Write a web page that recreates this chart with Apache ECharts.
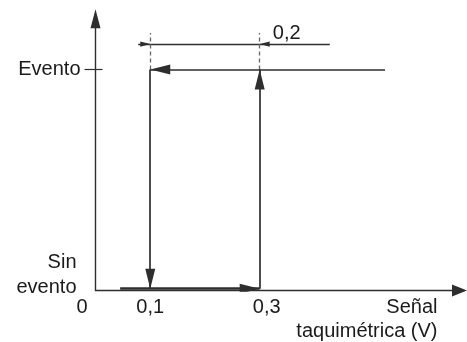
<!DOCTYPE html>
<html>
<head>
<meta charset="utf-8">
<script src="https://cdn.jsdelivr.net/npm/echarts@6/dist/echarts.min.js"></script>
<style>
  html, body { margin: 0; padding: 0; background: #fff; }
  #chart { width: 467px; height: 342px; }
</style>
</head>
<body>
<div id="chart"></div>
<script>
// tick labels
const xTickValues = [0, 0.1, 0.3];
const xTickLabels = ['0', '0,1', '0,3'];
const yTickValues = [0, 1];
const yTickLabels = ['Sin\nevento', 'Evento'];
const xName = 'Señal\ntaquimétrica (V)';

// hysteresis loop (x = signal in V, y = 0 no event / 1 event)
const riseFlat = [[0.045, 0.008], [0.3, 0.008]];
const riseStep = [[0.3, 0.008], [0.3, 1]];
const fallFlat = [[0.529, 1], [0.1, 1]];
const fallStep = [[0.1, 1], [0.1, 0.008]];

// dimension of the hysteresis band
const bandLabel = '0,2';
const bandLabelPos = [0.324, 1.165];
const dimMiddle = [[0.1, 1.115], [0.3, 1.115]];
const dimArrows = [
  [[0.078, 1.115], [0.1, 1.115]],
  [[0.428, 1.115], [0.3, 1.115]],
];
const guides = [
  [[0.1, 1], [0.1, 1.165]],
  [[0.3, 1], [0.3, 1.165]],
];

const ink = '#2e2e2e';
const textInk = '#1a1a1a';
const font = 'Liberation Sans, Arial, sans-serif';
const fs = 20;

// triangles whose tip sits at the centre of the (square) symbol box
const bigArrow = 'path://M0,0M40,40M20,20L25,40L15,40Z';
const smallArrow = 'path://M0,0M20,20M10,10L12.6,20L7.4,20Z';

const toLine = (pts) => ({ coords: pts });
const txt = (extra) => Object.assign({ fontSize: fs, fontFamily: font, color: textInk }, extra);

const chart = echarts.init(document.getElementById('chart'));

const option = {
  animation: false,
  grid: {
    left: 95.5, right: 7.5, top: 18.7, bottom: 51.5,
    containLabel: false,
    outerBoundsMode: 'none',
  },
  xAxis: {
    type: 'value',
    min: 0,
    max: 0.665,
    splitLine: { show: false },
    axisTick: { show: false },
    axisLine: {
      lineStyle: { color: ink, width: 1.4 },
      symbol: ['none', 'path://M6,0L12,15L0,15Z'],
      symbolSize: [12, 15],
    },
    axisLabel: txt({
      customValues: xTickValues,
      margin: 7,
      formatter(v) {
        const i = xTickValues.findIndex((t) => Math.abs(t - v) < 1e-9);
        return `{t${i}|${xTickLabels[i]}}`;
      },
      rich: {
        t0: txt({ padding: [0, 27, 0, 0] }),
        t1: txt({}),
        t2: txt({ padding: [0, 0, 0, 14] }),
      },
    }),
    name: xName,
    nameLocation: 'end',
    nameGap: -22,
    nameMoveOverlap: false,
    nameTextStyle: txt({
      align: 'right',
      verticalAlign: 'top',
      lineHeight: 24,
      padding: [5, 0, 0, 0],
    }),
  },
  yAxis: [
    {
      type: 'value',
      position: 'left',
      min: 0,
      max: 1.23,
      splitLine: { show: false },
      axisLine: {
        lineStyle: { color: ink, width: 1.4 },
        symbol: ['none', 'path://M5,0L10,19L0,19Z'],
        symbolSize: [10, 19],
      },
      axisTick: { customValues: [1], length: 11, lineStyle: { color: ink, width: 1.2 } },
      axisLabel: txt({
        customValues: [1],
        margin: 15,
        formatter: (v) => yTickLabels[yTickValues.indexOf(v)],
      }),
    },
    {
      type: 'value',
      position: 'left',
      min: 0,
      max: 1.23,
      splitLine: { show: false },
      axisLine: { show: false },
      axisTick: { customValues: [1], inside: true, length: 7, lineStyle: { color: ink, width: 1.2 } },
      axisLabel: txt({
        customValues: [0],
        margin: 19,
        align: 'right',
        formatter(v) {
          const lines = yTickLabels[yTickValues.indexOf(v)].split('\n');
          // a blank trailing row lifts the two-line label above the axis
          return lines.map((l) => `{a|${l}}`).join('\n') + '\n{gap| }';
        },
        rich: {
          a: txt({ lineHeight: 25, align: 'right' }),
          gap: txt({ lineHeight: 32, fontSize: 4, align: 'right' }),
        },
      }),
    },
  ],
  series: [
    {
      type: 'lines',
      coordinateSystem: 'cartesian2d',
      symbol: ['none', bigArrow],
      symbolSize: 40,
      lineStyle: { color: ink, width: 1.7, opacity: 1, curveness: 0 },
      data: [riseStep, fallFlat, fallStep].map(toLine),
      z: 3,
    },
    {
      type: 'lines',
      coordinateSystem: 'cartesian2d',
      symbol: ['none', bigArrow],
      symbolSize: 40,
      lineStyle: { color: ink, width: 2.6, opacity: 1, curveness: 0 },
      data: [riseFlat].map(toLine),
      z: 3,
    },
    {
      type: 'lines',
      coordinateSystem: 'cartesian2d',
      symbol: ['none', smallArrow],
      symbolSize: 20,
      lineStyle: { color: ink, width: 1.4, opacity: 1, curveness: 0 },
      data: dimArrows.map(toLine),
    },
    {
      type: 'lines',
      coordinateSystem: 'cartesian2d',
      symbol: 'none',
      lineStyle: { color: ink, width: 1.4, opacity: 1, curveness: 0 },
      data: [dimMiddle].map(toLine),
    },
    {
      type: 'lines',
      coordinateSystem: 'cartesian2d',
      symbol: 'none',
      lineStyle: { color: '#666', width: 1.3, opacity: 1, type: [4, 3], curveness: 0 },
      data: guides.map(toLine),
    },
    {
      type: 'scatter',
      symbolSize: 0.01,
      itemStyle: { color: textInk, opacity: 1 },
      label: txt({
        show: true,
        position: 'right',
        distance: 0,
        opacity: 1,
        formatter: () => bandLabel,
      }),
      data: [bandLabelPos],
    },
  ],
};

chart.setOption(option);
</script>
</body>
</html>
